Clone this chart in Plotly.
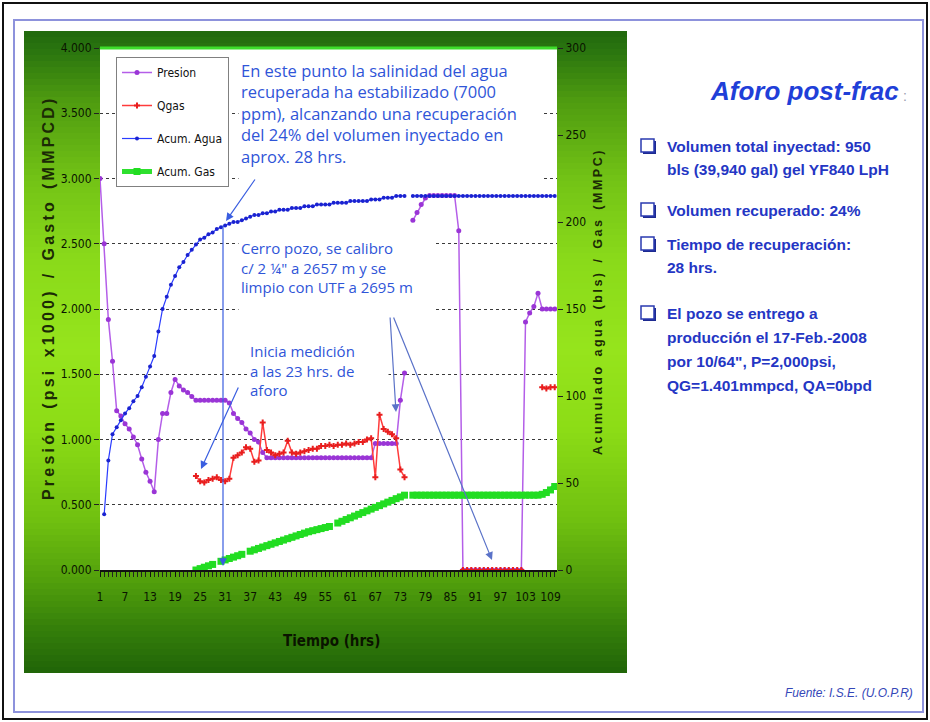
import plotly.graph_objects as go

# ---------------- data ----------------
hours = list(range(1, 111))

presion = [3.00, 2.50, 1.92, 1.60, 1.22, 1.18, 1.12, 1.08, 1.02, 0.96,
           0.85, 0.75, 0.68, 0.60, 1.00, 1.20, 1.20, 1.36, 1.46, 1.41,
           1.38, 1.36, 1.33, 1.30, 1.30, 1.30, 1.30, 1.30, 1.30, 1.30,
           1.30, 1.28, 1.20, 1.16, 1.13, 1.08, 1.05, 1.00, 0.98, 0.90,
           0.86, 0.86, 0.86, 0.86, 0.86, 0.86, 0.86, 0.86, 0.86, 0.86,
           0.86, 0.86, 0.86, 0.86, 0.86, 0.86, 0.86, 0.86, 0.86, 0.86,
           0.86, 0.86, 0.86, 0.86, 0.86, 0.86, 0.97, 0.97, 0.97, 0.97,
           0.97, 0.97, 1.30, 1.51, None, 2.68, 2.74, 2.80, 2.85, 2.87,
           2.87, 2.87, 2.87, 2.87, 2.87, 2.87, 2.60, 0.00, 0.00, 0.00,
           0.00, 0.00, 0.00, 0.00, 0.00, 0.00, 0.00, 0.00, 0.00, 0.00,
           0.00, 0.00, 1.90, 1.97, 2.02, 2.12, 2.00, 2.00, 2.00, 2.00]

qgas = [None, None, None, None, None, None, None, None, None, None,
        None, None, None, None, None, None, None, None, None, None,
        None, None, None, 0.72, 0.68, 0.67, 0.69, 0.70, 0.71, 0.69,
        0.68, 0.70, 0.86, 0.88, 0.90, 0.94, 0.93, 0.83, 0.84, 1.13,
        0.92, 0.90, 0.88, 0.89, 0.90, 0.99, 0.90, 0.89, 0.90, 0.91,
        0.92, 0.93, 0.93, 0.95, 0.95, 0.96, 0.95, 0.96, 0.96, 0.97,
        0.96, 0.97, 0.98, 0.98, 1.00, 1.01, 0.71, 1.19, 1.08, 1.06,
        1.04, 1.01, 0.77, 0.71, None, None, None, None, None, None,
        None, None, None, None, None, None, None, 0.00, 0.00, 0.00,
        0.00, 0.00, 0.00, 0.00, 0.00, 0.00, 0.00, 0.00, 0.00, 0.00,
        0.00, 0.00, None, None, None, None, 1.40, 1.39, 1.40, 1.40]

acum_agua = [None, 32, 63, 78, 82, 86, 90, 93, 97, 100,
             105, 111, 117, 123, 137, 150, 157, 164, 169, 174,
             177, 181, 184, 187, 190, 191, 193, 194, 196, 197,
             198, 199, 200, 200, 201, 202, 203, 204, 204, 205,
             205, 206, 206, 207, 207, 207, 208, 208, 208, 209,
             209, 209, 210, 210, 210, 210, 211, 211, 211, 211,
             212, 212, 212, 212, 212, 213, 213, 213, 214, 214,
             214, 215, 215, 215, None, 215, 215, 215, 215, 215,
             215, 215, 215, 215, 215, 215, 215, 215, 215, 215,
             215, 215, 215, 215, 215, 215, 215, 215, 215, 215,
             215, 215, 215, 215, 215, 215, 215, 215, 215, 215]

acum_gas = [None, None, None, None, None, None, None, None, None, None,
            None, None, None, None, None, None, None, None, None, None,
            None, None, None, 0.0, 0.8, 1.6, 2.4, 3.2, None, 5.0,
            5.8, 6.6, 7.4, 8.2, 9.0, None, 10.8, 11.6, 12.4, 13.2,
            14.0, 14.8, 15.6, 16.4, 17.2, 18.0, 18.8, 19.6, 20.4, 21.2,
            22.0, 22.6, 23.2, 23.8, 24.4, 25.0, None, 27.0, 28.0, 29.0,
            30.0, 31.0, 32.0, 33.0, 34.0, 35.0, 36.0, 37.0, 38.0, 39.0,
            40.0, 41.0, 42.0, 43.0, None, 43.0, 43.0, 43.0, 43.0, 43.0,
            43.0, 43.0, 43.0, 43.0, 43.0, 43.0, 43.0, 43.0, 43.0, 43.0,
            43.0, 43.0, 43.0, 43.0, 43.0, 43.0, 43.0, 43.0, 43.0, 43.0,
            43.0, 43.0, 43.0, 43.0, 43.0, 43.0, 43.5, 44.5, 46.0, 48.0]

series_names = ["Presion", "Qgas", "Acum. Agua", "Acum. Gas"]
x_tick_start, x_tick_step = 1, 6
left_range, left_step = [0, 4], 0.5
right_range, right_step = [0, 300], 50

# ---------------- geometry helpers ----------------
W, H = 930, 722
def px(x):
    return x / W
def py(y):
    return 1 - y / H

NARROW = "Liberation Sans Narrow, DejaVu Sans Condensed, Arial Narrow, Liberation Sans, sans-serif"
ARIAL = "Liberation Sans, Arial, sans-serif"
ROUND = "Open Sans, Lato, sans-serif"
BLUE_TXT = "#2f55d8"
PANEL_BLUE = "#2436c4"

fig = go.Figure()

fig.add_trace(go.Scatter(
    x=hours, y=presion, name=series_names[0], mode="lines+markers",
    legendgroup="g1", line=dict(color="#b45ee8", width=1.5),
    marker=dict(symbol="circle", size=5, color="#9a35d6")))
fig.add_trace(go.Scatter(
    x=hours, y=qgas, name=series_names[1], mode="lines+markers",
    legendgroup="g2", line=dict(color="#ff3b3b", width=1.5),
    marker=dict(symbol="cross", size=5, color="#e81e1e")))
fig.add_trace(go.Scatter(
    x=hours, y=acum_agua, name=series_names[2], mode="lines+markers",
    legendgroup="g3", yaxis="y2", line=dict(color="#2a3cff", width=1.2),
    marker=dict(symbol="circle", size=4, color="#1a22d0")))
fig.add_trace(go.Scatter(
    x=hours, y=acum_gas, name=series_names[3], mode="lines+markers",
    legendgroup="g4", yaxis="y2", line=dict(color="#2ee02e", width=5),
    marker=dict(symbol="square", size=7, color="#22dd22")))

# ---------------- background shapes ----------------
shapes = []
stops = [(31, (32, 104, 14)), (55, (45, 120, 15)), (100, (78, 155, 16)),
         (180, (115, 195, 22)), (260, (138, 218, 26)), (350, (150, 228, 28)),
         (430, (140, 220, 22)), (520, (112, 192, 16)), (580, (82, 160, 12)),
         (630, (52, 126, 10)), (673, (32, 100, 8))]

def col_at(y):
    for (y0, c0), (y1, c1) in zip(stops[:-1], stops[1:]):
        if y0 <= y <= y1:
            t = (y - y0) / (y1 - y0)
            return "rgb(%d,%d,%d)" % tuple(round(a + (b - a) * t) for a, b in zip(c0, c1))
    return "rgb(%d,%d,%d)" % stops[-1][1]

top, bot, step = 31, 673, 6
yy = top
while yy < bot:
    y2 = min(yy + step + 1, bot)
    shapes.append(dict(type="rect", xref="paper", yref="paper", layer="below",
                       x0=px(24), x1=px(627), y0=py(y2), y1=py(yy),
                       fillcolor=col_at(yy + step / 2), line=dict(width=0)))
    yy += step

# white plot area
shapes.append(dict(type="rect", xref="paper", yref="paper", layer="below",
                   x0=px(100), x1=px(557), y0=py(570), y1=py(48),
                   fillcolor="white", line=dict(width=0)))
# bright green top border of plot area
shapes.append(dict(type="line", xref="paper", yref="paper", layer="below",
                   x0=px(100), x1=px(557), y0=py(48), y1=py(48),
                   line=dict(color="#3ddc2a", width=3)))
# slide frames
shapes.append(dict(type="rect", xref="paper", yref="paper",
                   x0=px(14), x1=px(923), y0=py(712), y1=py(20),
                   line=dict(color="#8d92dc", width=2), fillcolor="rgba(0,0,0,0)"))
shapes.append(dict(type="rect", xref="paper", yref="paper",
                   x0=px(3), x1=px(927), y0=py(719), y1=py(3),
                   line=dict(color="#111111", width=2), fillcolor="rgba(0,0,0,0)"))

# check boxes of the right panel (shadow + outlined square)
for yb in [146, 210, 244, 313]:
    shapes.append(dict(type="rect", xref="paper", yref="paper",
                       x0=px(643), x1=px(656), y0=py(yb + 8), y1=py(yb - 5),
                       fillcolor="#1d2a90", line=dict(width=0)))
    shapes.append(dict(type="rect", xref="paper", yref="paper",
                       x0=px(641), x1=px(654), y0=py(yb + 6), y1=py(yb - 7),
                       fillcolor="white", line=dict(color="#2a3ab0", width=1.5)))

# ---------------- annotations ----------------
ann = []

def spaced(s):
    out = []
    for word in s.split(" "):
        out.append("\u2009".join(word))
    return "\u00a0\u00a0\u00a0".join(out)

def label(text, x, y, size, color, family=ARIAL, xanchor="center", yanchor="middle", **kw):
    d = dict(text=text, x=px(x), y=py(y), xref="paper", yref="paper", showarrow=False,
             xanchor=xanchor, yanchor=yanchor, font=dict(family=family, size=size, color=color))
    d.update(kw)
    return d

# axis titles
ann.append(label("<b>" + spaced("Presión (psi x1000) / Gasto (MMPCD)") + "</b>",
                 48, 300, 16, "#1b2a05", textangle=-90))
ann.append(label("<b>" + spaced("Acumulado agua (bls) / Gas (MMPC)") + "</b>",
                 598, 303, 12.5, "#1b2a05", textangle=-90))
ann.append(label("<b>Tiempo (hrs)</b>", 331, 641, 15, "#0a1400", family=NARROW))

# callout text boxes
ann.append(label("En este punto la salinidad del agua<br>recuperada ha estabilizado (7000<br>"
                 "ppm), alcanzando una recuperación<br>del 24% del volumen inyectado en<br>aprox. 28 hrs.",
                 238, 56, 16.5, BLUE_TXT, family=ROUND, xanchor="left", yanchor="top",
                 width=300, height=128, align="left", valign="top", bgcolor="white", borderpad=2))
ann.append(label("Cerro pozo, se calibro<br>c/ 2 ¼\" a 2657 m y se<br>limpio con UTF a 2695 m",
                 238, 235, 15, BLUE_TXT, family=ROUND, xanchor="left", yanchor="top",
                 width=192, height=77, align="left", valign="top", bgcolor="white", borderpad=2))
ann.append(label("Inicia medición<br>a las 23 hrs. de<br>aforo",
                 247, 338, 15, BLUE_TXT, family=ROUND, xanchor="left", yanchor="top",
                 width=136, height=68, align="left", valign="top", bgcolor="white", borderpad=2))

# arrows
def arrow(tail, head, color="#3a5ee0"):
    return dict(x=px(head[0]), y=py(head[1]), xref="paper", yref="paper",
                ax=tail[0] - head[0], ay=tail[1] - head[1], text="",
                showarrow=True, arrowhead=2, arrowsize=1.3, arrowwidth=1.2,
                arrowcolor=color, standoff=0)

ann.append(arrow((256, 178), (226, 221)))
ann.append(arrow((223, 224), (223, 566)))
ann.append(arrow((239, 386), (201, 469)))
ann.append(arrow((390, 316), (396, 412), "#5a72c8"))
ann.append(arrow((393, 316), (492, 560), "#5a72c8"))

# right panel
ann.append(label("<b><i>Aforo post-frac</i></b>", 804, 91, 26, "#1f3fd8"))
ann.append(label(":", 905, 96, 14, "#9aa0b0"))

bullet_lines = [(146, "Volumen total inyectad: 950"),
                (169, "bls (39,940 gal) gel YF840 LpH"),
                (210, "Volumen recuperado: 24%"),
                (244, "Tiempo de recuperación:"),
                (267, "28 hrs."),
                (313, "El pozo se entrego a"),
                (337, "producción el 17-Feb.-2008"),
                (361, "por 10/64\", P=2,000psi,"),
                (385, "QG=1.401mmpcd, QA=0bpd")]
for yline, s in bullet_lines:
    ann.append(label("<b>" + s + "</b>", 665, yline, 15.5, PANEL_BLUE, xanchor="left"))

ann.append(label("<i>Fuente: I.S.E. (U.O.P.R)</i>", 915, 693, 12, "#3447b8", xanchor="right"))

# ---------------- layout ----------------
tick_font = dict(family=NARROW, size=12, color="#0a1400")
fig.update_layout(
    width=W, height=H, autosize=False,
    margin=dict(l=0, r=0, t=0, b=0, pad=0, autoexpand=False),
    paper_bgcolor="white", plot_bgcolor="rgba(0,0,0,0)",
    showlegend=True,
    legend=dict(x=px(116), y=py(57), xanchor="left", yanchor="top", bgcolor="white",
                bordercolor="#808080", borderwidth=1, tracegroupgap=14, itemwidth=30,
                font=dict(family=NARROW, size=12, color="#111111")),
    xaxis=dict(domain=[px(100), px(557)], range=[1, 110.55], tickmode="linear", automargin=False,
               tick0=x_tick_start, dtick=x_tick_step, ticks="outside", ticklen=5,
               tickcolor="#111", showline=True, linecolor="#111", linewidth=1.5,
               showgrid=False, zeroline=False, tickfont=dict(family=NARROW, size=12, color="#0a1400"),
               ticklabelstandoff=10,
               minor=dict(dtick=1, tick0=1, ticks="outside", ticklen=5, tickcolor="#222", showgrid=False)),
    yaxis=dict(domain=[py(570), py(48)], range=left_range, dtick=left_step, tickformat=".3f",
               automargin=False,
               ticks="outside", ticklen=5, tickcolor="#222", showgrid=True, gridcolor="#3a3a3a",
               griddash="dot", gridwidth=1, zeroline=False, showline=False, tickfont=tick_font),
    yaxis2=dict(overlaying="y", side="right", anchor="x", range=right_range, dtick=right_step,
                automargin=False,
                ticks="outside", ticklen=5, tickcolor="#222", showgrid=False, zeroline=False,
                showline=False, tickfont=tick_font),
    shapes=shapes, annotations=ann,
)

fig.write_html("out.html", config={"responsive": False, "displayModeBar": False},
               post_script="document.body.style.margin='0px';document.body.style.overflow='hidden';")
